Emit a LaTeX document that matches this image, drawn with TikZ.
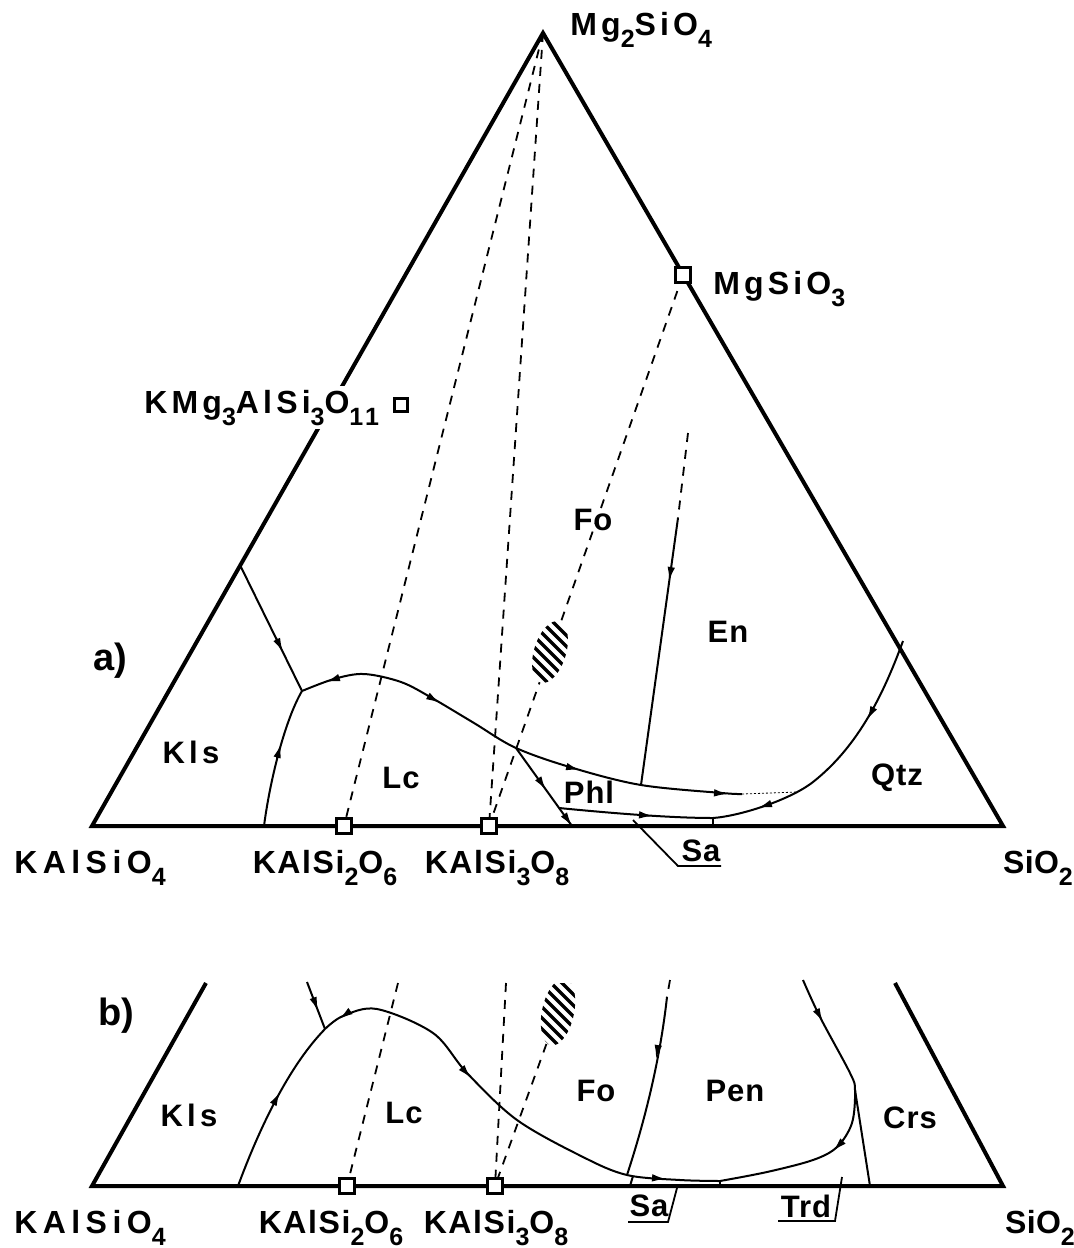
\documentclass[tikz,border=0pt]{standalone}
\usepackage{fontspec}
\setmainfont{Liberation Sans}
\newfontfamily\rf{Liberation Sans}[LetterSpace=3]
\newfontfamily\kf{Liberation Sans}[LetterSpace=14]
\newfontfamily\tf{Liberation Sans}[LetterSpace=13]
\newfontfamily\mf{Liberation Sans}[LetterSpace=5]
\newfontfamily\wf{Liberation Sans}[LetterSpace=17]
\newfontfamily\nf{Liberation Sans}[LetterSpace=1]
\usetikzlibrary{arrows.meta,calc}
\newcommand\sbs[1]{\raisebox{-6pt}{\fontsize{12.5}{12.5}\selectfont #1}}
\newcommand\hatchblob[5]{%
\begin{scope}
\clip[shift={(#1,#2)}, rotate=#3] (0,0) ellipse [x radius=#4, y radius=#5];
\fill[white] ($(#1,#2)+(-60,-60)$) rectangle ++(120,120);
\foreach \k in {-6,...,6} \draw[line width=1.7pt] ($(#1,#2)+(\k*11-60,-60)$) -- ++(120,120);
\end{scope}}
\tikzset{
  edge/.style={line width=2pt, line join=miter},
  bnd/.style={line width=1pt},
  tie/.style={line width=0.9pt, dash pattern=on 4.5pt off 4pt},
  lead/.style={line width=0.9pt},
  arseg/.style={line width=1pt, -{Latex[length=7pt,width=3.8pt]}},
  sq/.style={draw, fill=white, line width=1.2pt, minimum size=7.5pt, inner sep=0pt},
  lab/.style={font=\rf\bfseries\fontsize{15.5}{15.5}\selectfont, inner sep=0pt},
  klab/.style={font=\kf\bfseries\fontsize{15.5}{15.5}\selectfont, inner sep=0pt},
  tlab/.style={font=\tf\bfseries\fontsize{16}{16}\selectfont, inner sep=0pt},
  mlab/.style={font=\mf\bfseries\fontsize{16}{16}\selectfont, inner sep=0pt},
  wlab/.style={font=\wf\bfseries\fontsize{16}{16}\selectfont, inner sep=0pt},
  nlab/.style={font=\nf\bfseries\fontsize{16}{16}\selectfont, inner sep=0pt},
  big/.style={font=\bfseries\fontsize{19}{19}\selectfont, inner sep=0pt},
}
\begin{document}
\begin{tikzpicture}[x=0.5pt,y=-0.5pt]
\useasboundingbox (0,0) rectangle (1074,1248);
% ================= (a) =================
\coordinate (A) at (543,33);
\coordinate (L) at (92,826);
\coordinate (R) at (1003,826);
\coordinate (MS) at (683,275);
\coordinate (PH) at (401,405);
\coordinate (LC) at (344,826);
\coordinate (SA) at (489,826);
% tie lines
\draw[tie] (A) -- (LC);
\draw[tie] (A) -- (SA);
\draw[tie] (MS) -- (SA);
\hatchblob{550}{652}{-17}{8pt}{16pt}
% triangle
\draw[edge] (A) -- (L) -- (R) -- cycle;
% boundary curves
\coordinate (P1) at (240,565);
\coordinate (J1) at (302,691);
\coordinate (B1) at (264,826);
\coordinate (PK) at (364,674);
\coordinate (X1) at (516,748);
\coordinate (EN) at (641,785);
\coordinate (UE) at (742,794);
\coordinate (UF) at (798,792);
\coordinate (PB) at (572,826);
\coordinate (L0) at (559,808);
\coordinate (M1) at (713,818);
\coordinate (Q0) at (903,641);
\coordinate (Q1) at (813,782);
\coordinate (ET) at (688,433);
\coordinate (EM) at (678,518);
\draw[bnd] (P1) -- (J1);
\draw[arseg] (276,638) -- (283,652);
\draw[bnd] (B1) .. controls (270,780) and (285,720) .. (J1);
\draw[arseg] (277,758) -- (281,744);
\draw[bnd] plot[smooth, tension=0.55] coordinates {(J1) (334,679) (PK) (401,682) (432,698) (474,723) (X1) (573,768) (EN) (722,793) (UE)};
\draw[arseg] (338,678) -- (326,682);
\draw[arseg] (428,696) -- (440,703);
\draw[arseg] (568,767) -- (580,770);
\draw[arseg] (716,793) -- (728,794);
\draw[line width=0.4pt, dash pattern=on 1pt off 1pt] (UE) -- (UF);
\draw[bnd] (X1) -- (PB);
\draw[arseg] (540,781) -- (546,790);
\draw[arseg] (565,816) -- (572,826);
\draw[bnd] (L0) .. controls (610,813) and (670,818) .. (M1);
\draw[arseg] (641,815) -- (653,816);
\draw[bnd] (Q0) .. controls (885,690) and (860,745) .. (Q1) .. controls (790,800) and (740,816) .. (M1);
\draw[arseg] (873,709) -- (867,720);
\draw[arseg] (770,804) -- (758,808);
\draw[bnd] (M1) -- (M1 |- R);
\draw[tie] (ET) -- (EM);
\draw[bnd] (EM) -- (EN);
\draw[arseg] (671,569) -- (669,581);
% Sa leader
\coordinate (SAp) at (633,820);
\coordinate (SAk) at (678,866);
\coordinate (SAe) at (721,866);
\draw[lead] (SAp) -- (SAk) -- (SAe);
% squares
\node[sq] (sqMS) at (MS) {};
\node[sq, minimum size=6.5pt] (sqPH) at (PH) {};
\node[sq] (sqLC) at (LC) {};
\node[sq] (sqSA) at (SA) {};
% labels
\node[tlab, anchor=base west] (tMg) at (570,35) {Mg\sbs{2}SiO\sbs{4}};
\node[tlab, anchor=base west] (tMS) at (713,294) {MgSiO\sbs{3}};
\node[tlab, anchor=base west, fill=white, inner sep=2pt] (tPH) at (140,413) {KMg\sbs{3}AlSi\sbs{3}O\sbs{11}};
\node[big] (ta) at (110,661) {a)};
\node[klab] (fKls) at (191,752) {Kls};
\node[lab] (fLc) at (401,778) {Lc};
\node[lab] (fPhl) at (589,792) {Phl};
\node[lab] (fEn) at (728,632) {En};
\node[lab] (fFo) at (593,520) {Fo};
\node[lab] (fQtz) at (897,778) {Qtz};
\node[lab] (fSa) at (701,851) {Sa};
\node[wlab, anchor=base] (tKs) at (90,873) {KAlSiO\sbs{4}};
\node[mlab, anchor=base] (tLc) at (325,873) {KAlSi\sbs{2}O\sbs{6}};
\node[mlab, anchor=base] (tSa) at (497,873) {KAlSi\sbs{3}O\sbs{8}};
\node[nlab, anchor=base] (tSi) at (1038,873) {SiO\sbs{2}};
% ================= (b) =================
\coordinate (bL) at (92,1186);
\coordinate (bLT) at (206,983);
\coordinate (bR) at (1003,1186);
\coordinate (bRT) at (895,983);
\coordinate (bLC) at (347,1186);
\coordinate (bSA) at (495,1186);
\coordinate (bE) at (558,1012);
\draw[tie] (398,983) -- (bLC);
\draw[tie] (506,983) -- (bSA);
\draw[tie] (bE) -- (bSA);
\begin{scope}
\clip (0,983) rectangle (1074,1248);
\hatchblob{558}{1012}{-12}{8pt}{17pt}
\end{scope}
\draw[edge] (bLT) -- (bL) -- (bR) -- (bRT);
\coordinate (J2) at (325,1029);
\coordinate (T2) at (307,982);
\coordinate (B2) at (238,1186);
\coordinate (PK2) at (377,1009);
\coordinate (MN) at (720,1181);
\coordinate (R0) at (803,980);
\coordinate (CR) at (855,1090);
\coordinate (CB) at (870,1186);
\coordinate (FT) at (670,980);
\coordinate (FM) at (667,997);
\coordinate (FB) at (627,1175);
\draw[bnd] (T2) -- (J2);
\draw[arseg] (314,1000) -- (318,1011);
\draw[bnd] (B2) .. controls (255,1140) and (285,1070) .. (J2);
\draw[arseg] (274,1103) -- (280,1092);
\draw[bnd] plot[smooth, tension=0.55] coordinates {(J2) (343,1016) (PK2) (433,1033) (467,1073) (517,1120) (583,1157) (FB) (680,1180) (MN)};
\draw[arseg] (349,1012) -- (339,1019);
\draw[arseg] (463,1069) -- (471,1078);
\draw[arseg] (654,1178) -- (666,1179);
\draw[bnd] plot[smooth, tension=0.55] coordinates {(R0) (820,1017) (850,1073) (CR) (852,1123) (837,1147) (813,1160) (767,1172) (MN)};
\draw[arseg] (817,1011) -- (823,1022);
\draw[arseg] (842,1142) -- (833,1151);
\draw[tie] (FT) -- (FM);
\draw[bnd] (FM) .. controls (660,1060) and (645,1120) .. (FB);
\draw[arseg] (658,1047) -- (656,1059);
\draw[bnd] (CR) -- (CB);
\coordinate (bT1) at (633,1176);
\draw[bnd] (bT1) -- (630,1186);
\draw[bnd] (MN) -- (MN |- bR);
\coordinate (bSp) at (677,1188);
\coordinate (bSk) at (668,1222);
\coordinate (bSe) at (628,1222);
\draw[lead] (bSp) -- (bSk) -- (bSe);
\coordinate (bTp) at (842,1177);
\coordinate (bTk) at (835,1221);
\coordinate (bTe) at (778,1221);
\draw[lead] (bTp) -- (bTk) -- (bTe);
\node[sq] (sqbLC) at (bLC) {};
\node[sq] (sqbSA) at (bSA) {};
\node[big] (tb) at (116,1016) {b)};
\node[klab] (gKls) at (189,1115) {Kls};
\node[lab] (gLc) at (404,1113) {Lc};
\node[lab] (gFo) at (596,1091) {Fo};
\node[lab] (gPen) at (735,1091) {Pen};
\node[lab] (gCrs) at (910,1118) {Crs};
\node[lab] (gSa) at (649,1206) {Sa};
\node[lab] (gTrd) at (806,1206) {Trd};
\node[wlab, anchor=base] (uKs) at (90,1233) {KAlSiO\sbs{4}};
\node[mlab, anchor=base] (uLc) at (331,1233) {KAlSi\sbs{2}O\sbs{6}};
\node[mlab, anchor=base] (uSa) at (496,1233) {KAlSi\sbs{3}O\sbs{8}};
\node[nlab, anchor=base] (uSi) at (1040,1233) {SiO\sbs{2}};
\end{tikzpicture}
\end{document}
